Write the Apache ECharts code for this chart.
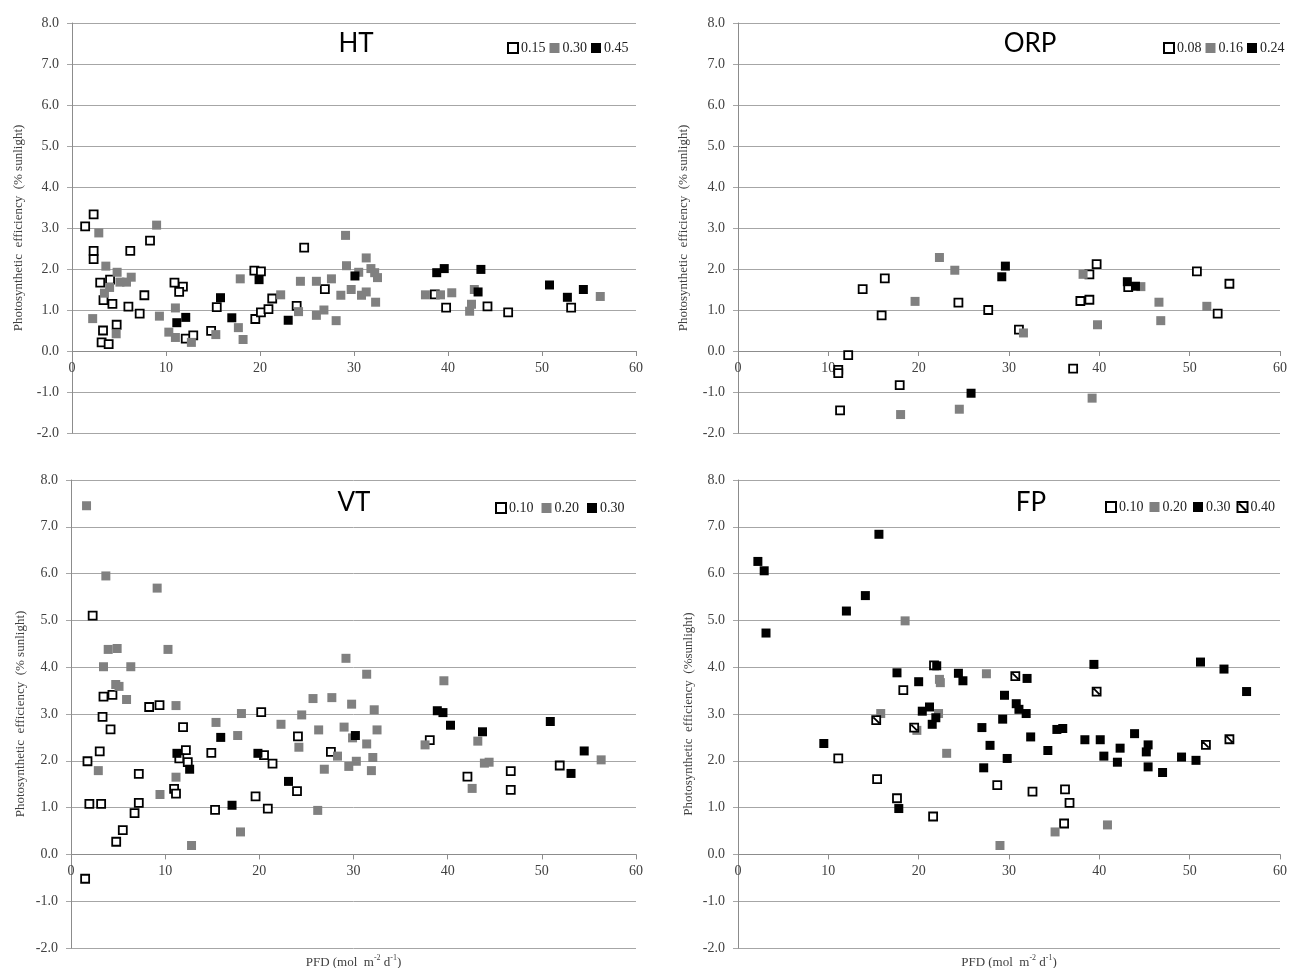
<!DOCTYPE html>
<html><head><meta charset="utf-8">
<script src="https://cdn.jsdelivr.net/npm/echarts@6/dist/echarts.min.js"></script>
<style>html,body{margin:0;padding:0;background:#fff}#c{width:1289px;height:968px}</style>
</head><body><div id="c"></div>
<script>
// ---- tick / axis settings ----
const xTicks = [0, 10, 20, 30, 40, 50, 60];
const yTicks = [-2, -1, 0, 1, 2, 3, 4, 5, 6, 7, 8];
const panelTitles = ['HT', 'ORP', 'VT', 'FP'];
const htLegend = ['0.15', '0.30', '0.45'];
const orpLegend = ['0.08', '0.16', '0.24'];
const vtLegend = ['0.10', '0.20', '0.30'];
const fpLegend = ['0.10', '0.20', '0.30', '0.40'];

// ---- HT ----
const ht015 = [[1.4,3.04],[2.3,3.33],[2.3,2.44],[2.3,2.24],[3.0,1.67],[4.05,1.74],[3.35,1.24],[4.3,1.15],[3.3,0.50],[3.15,0.21],[3.9,0.17],[4.75,0.64],[6.0,1.08],[6.2,2.44],[7.2,0.91],[7.7,1.36],[8.3,2.69],[10.9,1.67],[11.8,1.57],[11.4,1.44],[12.1,0.30],[12.9,0.38],[14.8,0.49],[15.4,1.07],[19.4,1.96],[20.1,1.94],[19.5,0.78],[20.1,0.94],[20.9,1.02],[21.3,1.28],[23.9,1.10],[24.7,2.52],[26.9,1.51],[38.6,1.38],[39.8,1.06],[44.2,1.09],[46.4,0.94],[53.1,1.06]];
const ht030 = [[2.2,0.79],[2.85,2.88],[3.6,2.07],[3.45,1.41],[4.0,1.55],[4.8,1.92],[5.1,1.68],[5.8,1.68],[6.3,1.80],[4.7,0.42],[9.0,3.07],[9.3,0.85],[10.3,0.46],[11.0,1.05],[11.0,0.33],[12.7,0.21],[15.3,0.40],[17.7,0.57],[18.2,0.28],[17.9,1.76],[22.2,1.37],[24.3,1.70],[24.1,0.96],[26.0,1.70],[26.0,0.87],[26.8,1.00],[27.6,1.76],[28.1,0.74],[28.6,1.36],[29.1,2.82],[29.2,2.08],[29.7,1.50],[30.5,1.92],[30.8,1.36],[31.3,1.44],[31.3,2.27],[31.8,2.01],[32.2,1.91],[32.5,1.79],[32.3,1.19],[37.6,1.37],[39.2,1.37],[40.4,1.42],[42.3,0.97],[42.5,1.14],[42.8,1.50],[56.2,1.33]];
const ht045 = [[11.15,0.69],[12.1,0.82],[15.8,1.30],[17.0,0.81],[19.9,1.74],[23.0,0.75],[30.1,1.83],[38.8,1.91],[39.6,2.01],[43.5,1.99],[43.2,1.44],[50.8,1.61],[52.7,1.31],[54.4,1.50]];

// ---- ORP ----
const orp008 = [[13.8,1.51],[16.25,1.77],[15.9,0.87],[12.2,-0.10],[11.1,-0.46],[11.1,-0.54],[17.9,-0.83],[11.3,-1.45],[24.4,1.18],[27.7,1.00],[31.1,0.52],[39.7,2.12],[38.9,1.87],[37.9,1.22],[38.9,1.25],[37.1,-0.43],[43.2,1.56],[50.8,1.94],[54.4,1.64],[53.1,0.91]];
const orp016 = [[22.3,2.28],[24.0,1.97],[19.6,1.21],[31.6,0.44],[18.0,-1.55],[24.5,-1.42],[38.2,1.87],[39.8,0.64],[39.2,-1.15],[44.6,1.57],[46.6,1.19],[46.8,0.74],[51.9,1.09]];
const orp024 = [[29.6,2.07],[29.2,1.81],[25.8,-1.03],[43.1,1.69],[44.0,1.58]];

// ---- VT ----
const vt010 = [[2.3,5.10],[3.45,3.37],[4.4,3.41],[3.35,2.94],[4.2,2.67],[3.05,2.20],[1.75,1.99],[1.95,1.08],[3.2,1.08],[7.2,1.72],[7.2,1.10],[6.75,0.88],[5.5,0.52],[4.8,0.27],[8.3,3.15],[9.4,3.19],[11.9,2.72],[12.2,2.23],[11.5,2.05],[12.4,1.97],[10.95,1.40],[11.15,1.30],[14.9,2.17],[15.3,0.95],[19.6,1.24],[20.2,3.04],[20.5,2.12],[21.4,1.94],[20.9,0.98],[1.5,-0.52],[24.1,2.52],[24.0,1.35],[27.6,2.19],[38.1,2.44],[42.1,1.66],[46.7,1.78],[46.7,1.38],[51.9,1.90]];
const vt020 = [[1.65,7.45],[3.7,5.95],[9.15,5.69],[3.95,4.38],[4.9,4.40],[10.3,4.38],[3.45,4.01],[6.35,4.01],[4.75,3.63],[5.1,3.59],[5.9,3.31],[11.15,3.18],[2.9,1.79],[11.15,1.65],[9.45,1.28],[12.8,0.19],[15.4,2.82],[18.1,3.01],[17.7,2.54],[18.0,0.48],[22.3,2.78],[24.5,2.98],[24.2,2.29],[25.7,3.33],[26.3,2.66],[26.2,0.94],[26.9,1.82],[27.7,3.35],[28.3,2.10],[29.2,4.19],[29.0,2.72],[29.5,1.88],[29.8,3.21],[29.9,2.49],[30.3,1.99],[31.4,3.85],[31.4,2.36],[32.2,3.09],[32.05,2.07],[31.9,1.79],[32.5,2.66],[37.6,2.34],[39.6,3.71],[43.2,2.42],[42.6,1.41],[43.9,1.95],[44.4,1.97],[56.3,2.02]];
const vt030 = [[11.25,2.16],[12.6,1.82],[15.9,2.50],[17.1,1.05],[19.85,2.16],[23.1,1.56],[30.2,2.54],[38.9,3.07],[39.5,3.03],[40.3,2.76],[43.7,2.62],[50.9,2.84],[54.5,2.21],[53.1,1.73]];

// ---- FP ----
const fp010 = [[11.1,2.05],[15.4,1.61],[18.3,3.51],[17.6,1.20],[21.6,0.81],[21.7,4.04],[28.7,1.48],[32.6,1.34],[36.2,1.39],[36.7,1.10],[36.1,0.66]];
const fp020 = [[18.5,4.99],[15.8,3.01],[22.3,3.74],[22.4,3.67],[22.2,3.01],[19.8,2.65],[23.1,2.16],[27.5,3.86],[29.0,0.19],[35.1,0.48],[40.9,0.63]];
const fp030 = [[2.2,6.26],[2.9,6.06],[3.1,4.73],[15.6,6.84],[14.1,5.53],[12.0,5.20],[9.5,2.37],[17.6,3.88],[17.8,0.98],[20.0,3.69],[20.4,3.06],[22.0,4.03],[21.2,3.15],[21.5,2.78],[21.9,2.92],[24.4,3.87],[24.9,3.71],[27.0,2.71],[27.2,1.85],[27.9,2.33],[29.5,3.40],[29.3,2.89],[29.8,2.05],[30.8,3.22],[31.1,3.10],[31.9,3.01],[32.0,3.76],[32.4,2.51],[34.3,2.22],[35.3,2.67],[35.95,2.69],[38.4,2.45],[39.4,4.06],[40.1,2.45],[40.5,2.10],[42.0,1.97],[42.3,2.27],[43.9,2.58],[45.2,2.19],[45.4,2.34],[45.4,1.87],[47.0,1.75],[49.1,2.08],[50.7,2.01],[51.2,4.11],[53.8,3.96],[56.3,3.48]];
const fp040 = [[15.3,2.87],[19.5,2.71],[30.7,3.81],[39.7,3.48],[51.8,2.34],[54.4,2.46]];

// ---- styling ----
const SERIF = '"Liberation Serif", "Times New Roman", serif';
const SANS = 'Lato, "Liberation Sans", sans-serif';
const GRID_C = '#a6a6a6';
const AXIS_C = '#8c8c8c';
const TXT_C = '#404040';
const HATCH = 'path://M0,0L10,0L10,10L0,10ZM1.5,1.5L8.5,8.5';

const grids = [
  {left: 72, top: 23, width: 564, height: 410, outerBoundsMode: 'none', containLabel: false},
  {left: 738, top: 23, width: 542, height: 410, outerBoundsMode: 'none', containLabel: false},
  {left: 71, top: 480, width: 565, height: 468, outerBoundsMode: 'none', containLabel: false},
  {left: 738, top: 480, width: 542, height: 468, outerBoundsMode: 'none', containLabel: false}
];
const yNames = [
  'Photosynthetic  efficiency  (% sunlight)',
  'Photosynthetic  efficiency  (% sunlight)',
  'Photosynthetic  efficiency  (% sunlight)',
  'Photosynthetic  efficiency  (%sunlight)'
];
const yNameGaps = [47, 48, 44, 43];
const yMin = yTicks[0], yMax = yTicks[yTicks.length - 1];

// x axis crosses the y axis at value 0 (Excel style): shift the bottom axis up to y = 0
const xAxes = grids.map((g, i) => ({
  type: 'value', gridIndex: i, min: xTicks[0], max: xTicks[xTicks.length - 1], interval: 10,
  position: 'bottom',
  offset: -g.height * (0 - yMin) / (yMax - yMin),
  axisLine: {show: true, onZero: false, lineStyle: {color: AXIS_C, width: 1}},
  axisTick: {show: true, inside: false, length: 5, lineStyle: {color: AXIS_C}},
  axisLabel: {margin: 10, fontFamily: SERIF, fontSize: 14, color: TXT_C},
  splitLine: {show: false},
  name: i >= 2 ? 'PFD (mol  m{sup|-2} d{sup|-1})' : '',
  nameLocation: 'middle', nameGap: 100,
  nameTextStyle: {fontFamily: SERIF, fontSize: 13, color: TXT_C, lineHeight: 16,
    rich: {sup: {fontFamily: SERIF, fontSize: 8, lineHeight: 8, verticalAlign: 'top', color: TXT_C}}}
}));
const yAxes = grids.map((g, i) => ({
  type: 'value', gridIndex: i, min: yMin, max: yMax, interval: 1,
  axisLine: {show: true, onZero: false, lineStyle: {color: AXIS_C, width: 1}},
  axisTick: {show: true, inside: false, length: 5, lineStyle: {color: GRID_C}},
  axisLabel: {margin: 13, fontFamily: SERIF, fontSize: 14, color: TXT_C, formatter: v => v.toFixed(1)},
  splitLine: {show: true, lineStyle: {color: GRID_C, width: 1}},
  name: yNames[i], nameLocation: 'middle', nameGap: yNameGaps[i], nameRotate: 90,
  nameTextStyle: {fontFamily: SERIF, fontSize: 13, color: TXT_C}
}));

function sOpen(name, data, idx) {
  return {type: 'scatter', name, data, xAxisIndex: idx, yAxisIndex: idx, symbol: 'rect', symbolSize: 8,
    itemStyle: {color: '#ffffff', borderColor: '#000000', borderWidth: 1.8, opacity: 1}, z: 3};
}
function sFill(name, data, idx, color) {
  return {type: 'scatter', name, data, xAxisIndex: idx, yAxisIndex: idx, symbol: 'rect', symbolSize: 9,
    itemStyle: {color, opacity: 1}, z: 3};
}
function sHatch(name, data, idx) {
  return {type: 'scatter', name, data, xAxisIndex: idx, yAxisIndex: idx, symbol: HATCH, symbolSize: 8,
    itemStyle: {color: '#ffffff', borderColor: '#000000', borderWidth: 1.8, opacity: 1}, z: 3};
}

const series = [
  sOpen('HT 0.15', ht015, 0), sFill('HT 0.30', ht030, 0, '#808080'), sFill('HT 0.45', ht045, 0, '#000000'),
  sOpen('ORP 0.08', orp008, 1), sFill('ORP 0.16', orp016, 1, '#808080'), sFill('ORP 0.24', orp024, 1, '#000000'),
  sOpen('VT 0.10', vt010, 2), sFill('VT 0.20', vt020, 2, '#808080'), sFill('VT 0.30', vt030, 2, '#000000'),
  sOpen('FP 0.10', fp010, 3), sFill('FP 0.20', fp020, 3, '#808080'), sFill('FP 0.30', fp030, 3, '#000000'), sHatch('FP 0.40', fp040, 3)
];

function mkLegend(prefix, labels, left, top, gap, icons) {
  return {
    left, top, orient: 'horizontal', itemWidth: 10, itemHeight: 10, itemGap: gap, selectedMode: false,
    textStyle: {fontFamily: SERIF, fontSize: 14, color: '#222', padding: [0, 0, 0, -2]},
    formatter: n => n.split(' ')[1],
    data: labels.map((l, k) => ({name: prefix + ' ' + l, icon: icons[k]}))
  };
}

const titleText = panelTitles.map((t, i) => ({
  type: 'text', x: [356, 1030, 354, 1031][i], y: [44, 44, 503, 503][i],
  style: {text: t, font: '26px ' + SANS, fill: '#000', textAlign: 'center', textVerticalAlign: 'middle'}
}));

const option = {
  animation: false,
  backgroundColor: '#ffffff',
  grid: grids,
  xAxis: xAxes,
  yAxis: yAxes,
  legend: [
    mkLegend('HT', htLegend, 502, 36, 4, ['rect', 'rect', 'rect']),
    mkLegend('ORP', orpLegend, 1158, 36, 4, ['rect', 'rect', 'rect']),
    mkLegend('VT', vtLegend, 490, 496, 8, ['rect', 'rect', 'rect']),
    mkLegend('FP', fpLegend, 1100, 495, 6, ['rect', 'rect', 'rect', HATCH])
  ],
  graphic: titleText,
  series
};

const chart = echarts.init(document.getElementById('c'), null, {renderer: 'canvas'});
chart.setOption(option);
</script>
</body></html>
